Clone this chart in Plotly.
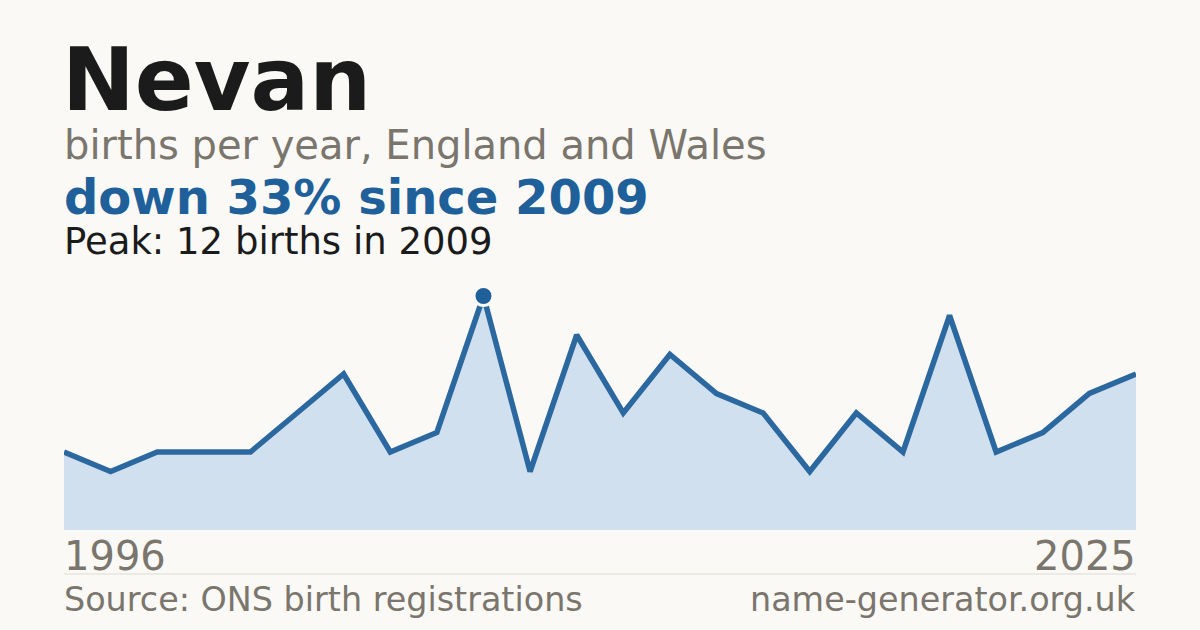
import plotly.graph_objects as go

years = [1996, 1998, 2000, 2002, 2004, 2005, 2006, 2007, 2008, 2009,
         2010, 2011, 2012, 2013, 2015, 2016, 2017, 2018, 2019, 2020,
         2021, 2022, 2024, 2025]
births = [4, 3, 4, 4, 4, 6, 8, 4, 5, 12,
          3, 10, 6, 9, 7, 6, 3, 6, 4, 11,
          4, 5, 7, 8]

name = "Nevan"
subtitle = "births per year, England and Wales"
headline = "down 33% since 2009"
peak_text = "Peak: 12 births in 2009"
source_text = "Source: ONS birth registrations"
site_text = "name-generator.org.uk"

BG = "#faf9f5"
BLUE = "#20609a"
LINE = "#2c68a0"
GREY = "#7a756d"
W, H = 1200, 630
ML, MR, MT, MB = 64, 64, 280, 100

idx = list(range(len(years)))
peak_i = births.index(max(births))

def py(p):
    return (H - MB - p) / (H - MT - MB)

def px(p):
    return (p - ML) / (W - ML - MR)

fig = go.Figure()
fig.add_trace(go.Scatter(
    x=idx, y=births, mode="lines",
    line=dict(color=LINE, width=5.5, shape="linear"),
    fill="tozeroy", fillcolor="#d0e0ef",
    hoverinfo="skip", showlegend=False,
))
fig.add_trace(go.Scatter(
    x=[idx[peak_i]], y=[births[peak_i]], mode="markers",
    marker=dict(color=BLUE, size=19, line=dict(color=BG, width=3)),
    hoverinfo="skip", showlegend=False, cliponaxis=False,
))

ann = []
def add(text, x, y, size, color, bold=False, xanchor="left"):
    ann.append(dict(
        text=("<b>%s</b>" % text) if bold else text,
        x=px(x), y=py(y), xref="paper", yref="paper",
        xanchor=xanchor, yanchor="middle", showarrow=False,
        font=dict(family="DejaVu Sans", size=size, color=color),
    ))

add(name, 60, 80, 87, "#1b1b1b", bold=True)
add(subtitle, 62, 145, 40, GREY)
add(headline, 62, 197, 48, BLUE, bold=True)
add(peak_text, 62, 241, 37, "#1b1b1b")
add(str(years[0]), 62, 556, 40, GREY)
add(str(years[-1]), 1138, 556, 40, GREY, xanchor="right")
add(source_text, 62, 599, 33.4, GREY)
add(site_text, 1138, 599, 33.4, GREY, xanchor="right")

fig.update_layout(
    width=W, height=H,
    margin=dict(l=ML, r=MR, t=MT, b=MB),
    paper_bgcolor=BG, plot_bgcolor=BG,
    xaxis=dict(range=[0, len(years) - 1], visible=False, fixedrange=True),
    yaxis=dict(range=[0, (H - MT - MB) / 19.5], visible=False, fixedrange=True),
    annotations=ann,
    shapes=[dict(type="line", xref="paper", yref="paper",
                 x0=0, x1=1, y0=py(574), y1=py(574),
                 line=dict(color="#dedbd3", width=1))],
)

fig.write_html(
    "out.html",
    config={"displayModeBar": False},
    post_script="document.body.style.margin='0';document.body.style.background='%s';" % BG,
)
